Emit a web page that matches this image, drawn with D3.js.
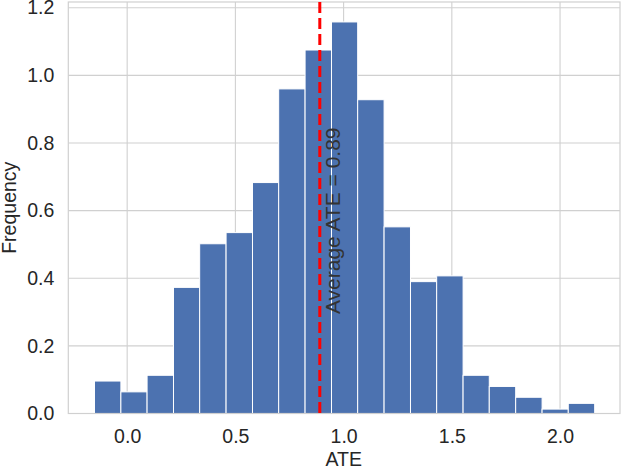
<!DOCTYPE html>
<html>
<head>
<meta charset="utf-8">
<script src="https://cdn.jsdelivr.net/npm/d3@7"></script>
<style>
  html, body { margin: 0; padding: 0; background: #fff; }
  svg { display: block; }
  text { font-family: "Liberation Sans", Arial, sans-serif; }
</style>
</head>
<body>
<svg id="chart" width="622" height="469"></svg>
<script>
// ---- data ----
const binEdges = [-0.151, -0.029, 0.092, 0.214, 0.335, 0.457, 0.579, 0.700, 0.822, 0.944,
                  1.065, 1.187, 1.309, 1.430, 1.552, 1.673, 1.795, 1.917, 2.038, 2.160];
const frequencies = [0.096, 0.064, 0.113, 0.373, 0.502, 0.535, 0.683, 0.960, 1.075, 1.158,
                     0.928, 0.552, 0.390, 0.407, 0.113, 0.080, 0.048, 0.013, 0.030];
const averageATE = 0.89;
const xTicks = [0.0, 0.5, 1.0, 1.5, 2.0];
const yTicks = [0.0, 0.2, 0.4, 0.6, 0.8, 1.0, 1.2];
const xLabel = "ATE";
const yLabel = "Frequency";
const annotation = "Average ATE = " + averageATE.toFixed(2);

// ---- layout ----
const svg = d3.select("#chart");
const plot = { left: 68.3, right: 620, top: 2, bottom: 413.5 };
const x = d3.scaleLinear().domain([-0.272, 2.277]).range([plot.left, plot.right]);
const y = d3.scaleLinear().domain([0, 1.217]).range([plot.bottom, plot.top]);
const textColor = "#262626";
const gridColor = "#d0d0d0";
const fontSize = 19.5;

// grid
svg.append("g").selectAll("line.vg").data(xTicks).join("line")
  .attr("x1", d => x(d)).attr("x2", d => x(d))
  .attr("y1", plot.top).attr("y2", plot.bottom)
  .attr("stroke", gridColor).attr("stroke-width", 1.1);
svg.append("g").selectAll("line.hg").data(yTicks).join("line")
  .attr("x1", plot.left).attr("x2", plot.right)
  .attr("y1", d => y(d)).attr("y2", d => y(d))
  .attr("stroke", gridColor).attr("stroke-width", 1.1);

// bars
const bars = frequencies.map((f, i) => ({ x0: binEdges[i], x1: binEdges[i + 1], f }));
svg.append("g").selectAll("rect").data(bars).join("rect")
  .attr("x", d => x(d.x0))
  .attr("width", d => x(d.x1) - x(d.x0))
  .attr("y", d => y(d.f))
  .attr("height", d => y(0) - y(d.f))
  .attr("fill", "#4c72b0")
  .attr("stroke", "#ffffff")
  .attr("stroke-width", 1);

// spines
svg.append("rect")
  .attr("x", plot.left).attr("y", plot.top)
  .attr("width", plot.right - plot.left).attr("height", plot.bottom - plot.top)
  .attr("fill", "none").attr("stroke", gridColor).attr("stroke-width", 1.2);

// mean line
svg.append("line")
  .attr("x1", x(averageATE)).attr("x2", x(averageATE))
  .attr("y1", plot.top).attr("y2", plot.bottom)
  .attr("stroke", "#ff0000").attr("stroke-width", 3)
  .attr("stroke-dasharray", "11,5");

// annotation
svg.append("text")
  .attr("transform", `translate(${x(averageATE) + 20},${y(0.294)}) rotate(-90)`)
  .attr("fill", "#333333")
  .attr("font-size", 21)
  .text(annotation);

// axes
const xAxis = d3.axisBottom(x).tickValues(xTicks).tickFormat(d3.format(".1f")).tickSize(0).tickPadding(16);
const gx = svg.append("g").attr("transform", `translate(0,${plot.bottom})`).call(xAxis);
gx.select(".domain").remove();
gx.selectAll("text").attr("font-size", fontSize).attr("fill", textColor)
  .attr("font-family", "Liberation Sans, Arial, sans-serif");

const yAxis = d3.axisLeft(y).tickValues(yTicks).tickFormat(d3.format(".1f")).tickSize(0).tickPadding(14);
const gy = svg.append("g").attr("transform", `translate(${plot.left},0)`).call(yAxis);
gy.select(".domain").remove();
gy.selectAll("text").attr("font-size", fontSize).attr("fill", textColor)
  .attr("font-family", "Liberation Sans, Arial, sans-serif");

// labels
svg.append("text")
  .attr("x", (plot.left + plot.right) / 2 - 0.5).attr("y", 466)
  .attr("text-anchor", "middle")
  .attr("font-size", fontSize).attr("fill", textColor)
  .text(xLabel);
svg.append("text")
  .attr("transform", `translate(16,${(plot.top + plot.bottom) / 2}) rotate(-90)`)
  .attr("text-anchor", "middle")
  .attr("font-size", fontSize).attr("fill", textColor)
  .text(yLabel);
</script>
</body>
</html>
